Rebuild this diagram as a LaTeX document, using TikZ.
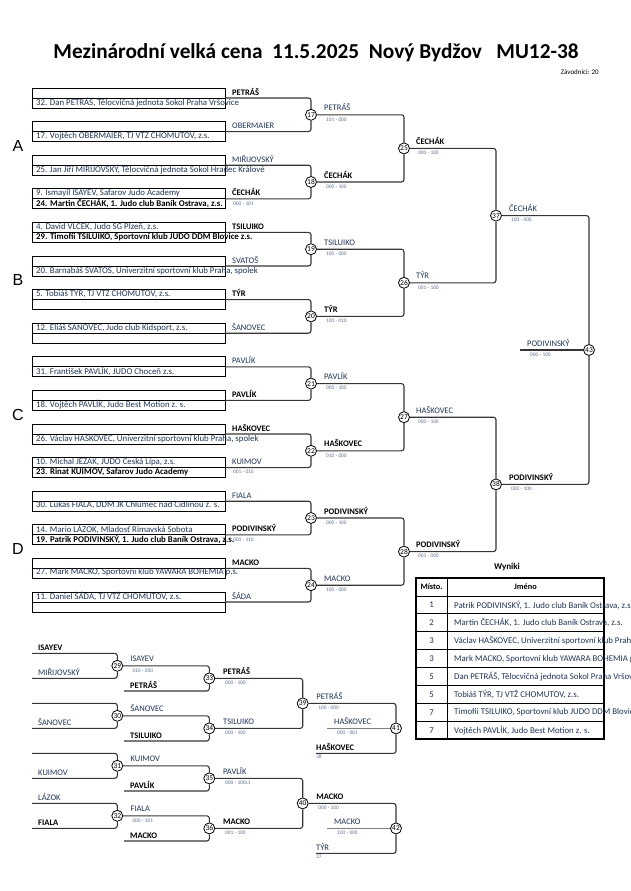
\documentclass[tikz,border=0pt]{standalone}
\usepackage{fontspec}
\setmainfont{Carlito}
\newfontfamily\groupfont{Liberation Sans}
\usetikzlibrary{positioning}

\newcommand{\wname}[1]{\textcolor{black}{\bfseries #1}}

\tikzset{
    slot/.style={draw=black, line width=0.9pt, minimum width=193pt, minimum height=10pt, inner sep=0pt, outer sep=0pt},
    entry/.style={anchor=west, inner sep=0pt, font=\fontsize{8.8}{9}\selectfont, text=nameColour},
    result/.style={anchor=base west, inner sep=0pt, font=\fontsize{8.5}{9}\selectfont, text=nameColour},
    score/.style={anchor=west, inner sep=0pt, font=\fontsize{5.4}{6}\selectfont, text=scoreColour},
    match/.style={circle, draw=black, fill=white, line width=0.8pt, minimum size=11pt, inner sep=0pt, font=\fontsize{7.5}{7.5}\selectfont},
    wire/.style={draw=lineColour, line width=1.1pt, rounded corners=2.5pt},
    cell/.style={inner sep=0pt, font=\fontsize{8.8}{9}\selectfont, text=nameColour},
}

\begin{document}
\begin{tikzpicture}[x=1pt, y=-1pt]
    \definecolor{nameColour}{HTML}{1F3458}
    \definecolor{scoreColour}{HTML}{5C6F93}
    \definecolor{lineColour}{HTML}{363636}

    \useasboundingbox (0,0) rectangle (630,891);

    % Title
    \node[font=\fontsize{21.3}{24}\selectfont\bfseries] (title) at (316,53) {Mezinárodní velká cena\ \ 11.5.2025\ \ Nový Bydžov\ \ \ MU12-38};
    \node[anchor=east, inner sep=0pt, font=\fontsize{7}{7}\selectfont] (count) at (599,72) {Závodníci: 20};

    % Groups
    \foreach \g/\gl in {0/A,1/B,2/C,3/D}
        \node[font=\groupfont\fontsize{16}{16}\selectfont] (grp\gl) at (18,{146+134.4*\g}) {\gl};

    % First round slots
    \foreach \k/\up/\lo/\lab in {
        0/{}/{32. Dan PETRÁŠ, Tělocvičná jednota Sokol Praha Vršovice}/{\wname{PETRÁŠ}},
        1/{}/{17. Vojtěch OBERMAIER, TJ VTŽ CHOMUTOV, z.s.}/{OBERMAIER},
        2/{}/{25. Jan Jiří MIŘIJOVSKÝ, Tělocvičná jednota Sokol Hradec Králové}/{MIŘIJOVSKÝ},
        3/{9. Ismayil ISAYEV, Safarov Judo Academy}/{\wname{24. Martin ČECHÁK, 1. Judo club Baník Ostrava, z.s.}}/{\wname{ČECHÁK}},
        4/{4. David VLČEK, Judo SG Plzeň, z.s.}/{\wname{29. Timofii TSILUIKO, Sportovní klub JUDO DDM Blovice z.s.}}/{\wname{TSILUIKO}},
        5/{}/{20. Barnabáš SVATOŠ, Univerzitní sportovní klub Praha, spolek}/{SVATOŠ},
        6/{5. Tobiáš TÝR, TJ VTŽ CHOMUTOV, z.s.}/{}/{\wname{TÝR}},
        7/{12. Eliáš ŠANOVEC, Judo club Kidsport, z.s.}/{}/{ŠANOVEC},
        8/{}/{31. František PAVLÍK, JUDO Choceň z.s.}/{PAVLÍK},
        9/{}/{18. Vojtěch PAVLÍK, Judo Best Motion z. s.}/{\wname{PAVLÍK}},
        10/{}/{26. Václav HAŠKOVEC, Univerzitní sportovní klub Praha, spolek}/{\wname{HAŠKOVEC}},
        11/{10. Michal JEŽÁK, JUDO Česká Lípa, z.s.}/{\wname{23. Rinat KUIMOV, Safarov Judo Academy}}/{KUIMOV},
        12/{}/{30. Lukáš FIALA, DDM JK Chlumec nad Cidlinou z. s.}/{FIALA},
        13/{14. Mario LÁZOK, Mladosť Rimavská Sobota}/{\wname{19. Patrik PODIVINSKÝ, 1. Judo club Baník Ostrava, z.s.}}/{\wname{PODIVINSKÝ}},
        14/{}/{27. Mark MACKO, Sportovní klub YAWARA BOHEMIA p.s.}/{\wname{MACKO}},
        15/{11. Daniel ŠÁDA, TJ VTŽ CHOMUTOV, z.s.}/{}/{ŠÁDA}}{
        \node[slot] (u\k) at (128.5,{93+33.6*\k}) {};
        \node[slot] (l\k) at (128.5,{103+33.6*\k}) {};
        \node[entry] (tu\k) at ([xshift=4pt,yshift=0.8pt]u\k.west) {\up};
        \node[entry] (tl\k) at ([xshift=4pt,yshift=0.8pt]l\k.west) {\lo};
        \node[result] (w\k) at ([xshift=7pt,yshift=3pt]l\k.north east) {\lab};
    }
    \node[score] (sp3) at ([xshift=8pt,yshift=-4.5pt]l3.north east) {000 - 101};
    \node[score] (sp11) at ([xshift=8pt,yshift=-4.5pt]l11.north east) {001 - 010};
    \node[score] (sp13) at ([xshift=8pt,yshift=-4.5pt]l13.north east) {000 - 110};

    % Round 1
    \foreach \j in {0,...,7}{
        \pgfmathtruncatemacro\n{17+\j}
        \pgfmathtruncatemacro\a{2*\j}
        \pgfmathtruncatemacro\b{2*\j+1}
        \node[match] (m\n) at (311,{114.8+67.2*\j}) {\n};
        \draw[wire] (l\a.north east) -| (m\n.north);
        \draw[wire] (m\n.south) |- (l\b.north east);
    }

    % Round 2
    \foreach \j in {0,...,3}{
        \pgfmathtruncatemacro\n{25+\j}
        \pgfmathtruncatemacro\a{17+2*\j}
        \pgfmathtruncatemacro\b{18+2*\j}
        \node[match] (m\n) at (404,{148.4+134.4*\j}) {\n};
        \draw[wire] (m\a.east) -| (m\n.north);
        \draw[wire] (m\n.south) |- (m\b.east);
    }

    % Semi-finals and final
    \node[match] (m37) at (496,215.6) {37};
    \node[match] (m38) at (496,484.4) {38};
    \node[match] (m43) at (589,350) {43};
    \draw[wire] (m25.east) -| (m37.north);
    \draw[wire] (m37.south) |- (m26.east);
    \draw[wire] (m27.east) -| (m38.north);
    \draw[wire] (m38.south) |- (m28.east);
    \draw[wire] (m37.east) -| (m43.north);
    \draw[wire] (m43.south) |- (m38.east);
    \coordinate (champ) at (520,350);
    \draw[wire] (m43.west) -- (champ);

    % Winners and scores
    \foreach \n/\lab/\sc/\dx in {
        17/{PETRÁŠ}/{101 - 000}/13, 18/{\wname{ČECHÁK}}/{000 - 100}/13,
        19/{TSILUIKO}/{100 - 000}/13, 20/{\wname{TÝR}}/{100 - 010}/13,
        21/{PAVLÍK}/{000 - 100}/13, 22/{\wname{HAŠKOVEC}}/{010 - 000}/13,
        23/{\wname{PODIVINSKÝ}}/{000 - 100}/13, 24/{MACKO}/{100 - 000}/13,
        25/{\wname{ČECHÁK}}/{000 - 100}/12, 26/{TÝR}/{001 - 100}/12,
        27/{HAŠKOVEC}/{000 - 100}/12, 28/{\wname{PODIVINSKÝ}}/{001 - 000}/12,
        37/{ČECHÁK}/{100 - 000}/13, 38/{\wname{PODIVINSKÝ}}/{000 - 100}/13}{
        \node[result] (r\n) at ([xshift=\dx pt,yshift=4pt]m\n.center) {\lab};
        \node[score] (s\n) at ([xshift=\dx pt+2pt,yshift=-4.5pt]m\n.center) {\sc};
    }
    \node[result] (r43) at ([xshift=7pt,yshift=4pt]champ) {PODIVINSKÝ};
    \node[score] (s43) at ([xshift=10pt,yshift=-4.5pt]champ) {000 - 100};

    % Results table
    \node[font=\fontsize{9}{10}\selectfont\bfseries] (wyniki) at (507,567) {Wyniki};
    \draw[line width=0.9pt] (447,578) -- (447,739);
    \foreach \i in {0,...,7}
        \draw[line width=0.9pt] (416,{596+17.9*\i}) -- (604,{596+17.9*\i});
    \draw[line width=1.6pt] (416,578) rectangle (604,739);
    \node[cell, text=black, font=\fontsize{8.3}{9}\selectfont\bfseries] (hplace) at (431.5,587) {Místo.};
    \node[cell, text=black, font=\fontsize{8.3}{9}\selectfont\bfseries] (hname) at (525.5,587) {Jméno};
    \foreach \i/\p/\who in {
        1/1/{Patrik PODIVINSKÝ, 1. Judo club Baník Ostrava, z.s.},
        2/2/{Martin ČECHÁK, 1. Judo club Baník Ostrava, z.s.},
        3/3/{Václav HAŠKOVEC, Univerzitní sportovní klub Praha, spolek},
        4/3/{Mark MACKO, Sportovní klub YAWARA BOHEMIA p.s.},
        5/5/{Dan PETRÁŠ, Tělocvičná jednota Sokol Praha Vršovice},
        6/5/{Tobiáš TÝR, TJ VTŽ CHOMUTOV, z.s.},
        7/7/{Timofii TSILUIKO, Sportovní klub JUDO DDM Blovice z.s.},
        8/7/{Vojtěch PAVLÍK, Judo Best Motion z. s.}}{
        \node[cell] (pl\i) at (431.5,{596+17.9*\i-8.95}) {\p};
        \node[cell, anchor=west] (nm\i) at (454,{596+17.9*\i-8.95}) {\who};
    }

    % Repechage, first column
    \foreach \j/\n/\ta/\tb/\lab/\sc in {
        0/29/{\wname{ISAYEV}}/{MIŘIJOVSKÝ}/{ISAYEV}/{010 - 000},
        1/30/{}/{ŠANOVEC}/{ŠANOVEC}/{},
        2/31/{}/{KUIMOV}/{KUIMOV}/{},
        3/32/{LÁZOK}/{\wname{FIALA}}/{FIALA}/{000 - 101}}{
        \coordinate (ra\n) at (32,{653.3+50*\j});
        \coordinate (rb\n) at (32,{678.3+50*\j});
        \node[match] (m\n) at (117.3,{665.8+50*\j}) {\n};
        \draw[wire] (ra\n) -| (m\n.north);
        \draw[wire] (m\n.south) |- (rb\n);
        \node[result] (ta\n) at ([xshift=6pt,yshift=3pt]ra\n) {\ta};
        \node[result] (tb\n) at ([xshift=6pt,yshift=3pt]rb\n) {\tb};
        \node[result] (r\n) at ([xshift=13pt,yshift=4pt]m\n.center) {\lab};
        \node[score] (s\n) at ([xshift=15pt,yshift=-4.5pt]m\n.center) {\sc};
    }

    % Repechage, second column
    \foreach \j/\n/\src/\tc/\lab/\sc in {
        0/33/29/{\wname{PETRÁŠ}}/{\wname{PETRÁŠ}}/{000 - 100},
        1/34/30/{\wname{TSILUIKO}}/{TSILUIKO}/{000 - 100},
        2/35/31/{\wname{PAVLÍK}}/{PAVLÍK}/{000 - 100s1},
        3/36/32/{\wname{MACKO}}/{\wname{MACKO}}/{001 - 100}}{
        \coordinate (rc\n) at (124,{691+50*\j});
        \node[match] (m\n) at (209.3,{678.4+50*\j}) {\n};
        \draw[wire] (m\src.east) -| (m\n.north);
        \draw[wire] (m\n.south) |- (rc\n);
        \node[result] (tc\n) at ([xshift=6pt,yshift=3pt]rc\n) {\tc};
        \node[result] (r\n) at ([xshift=13.7pt,yshift=4pt]m\n.center) {\lab};
        \node[score] (s\n) at ([xshift=15.7pt,yshift=-4.5pt]m\n.center) {\sc};
    }

    % Repechage, bronze fights
    \node[match] (m39) at (302.7,703.4) {39};
    \node[match] (m40) at (302.7,803.4) {40};
    \draw[wire] (m33.east) -| (m39.north);
    \draw[wire] (m39.south) |- (m34.east);
    \draw[wire] (m35.east) -| (m40.north);
    \draw[wire] (m40.south) |- (m36.east);
    \node[result] (r39) at ([xshift=13.5pt,yshift=4pt]m39.center) {PETRÁŠ};
    \node[score] (s39) at ([xshift=15.5pt,yshift=-4.5pt]m39.center) {100 - 000};
    \node[result] (r40) at ([xshift=13.5pt,yshift=4pt]m40.center) {\wname{MACKO}};
    \node[score] (s40) at ([xshift=15.5pt,yshift=-4.5pt]m40.center) {000 - 100};

    \foreach \j/\n/\src/\tz/\seed/\lab/\sc in {
        0/41/39/{\wname{HAŠKOVEC}}/38/{HAŠKOVEC}/{000 - 001},
        1/42/40/{TÝR}/37/{MACKO}/{100 - 000}}{
        \coordinate (bz\n) at (316,{753.4+100*\j});
        \coordinate (bo\n) at (327,{728.4+100*\j});
        \node[match] (m\n) at (396,{728.4+100*\j}) {\n};
        \draw[wire] (m\src.east) -| (m\n.north);
        \draw[wire] (m\n.south) |- (bz\n);
        \draw[wire, draw=gray] (m\n.west) -- (bo\n);
        \node[result] (tz\n) at ([xshift=0pt,yshift=3pt]bz\n) {\tz};
        \node[score] (sd\n) at ([xshift=0pt,yshift=-3.5pt]bz\n) {\seed};
        \node[result] (r\n) at ([xshift=7pt,yshift=4pt]bo\n) {\lab};
        \node[score] (s\n) at ([xshift=10pt,yshift=-4.5pt]bo\n) {\sc};
    }

\end{tikzpicture}
\end{document}
